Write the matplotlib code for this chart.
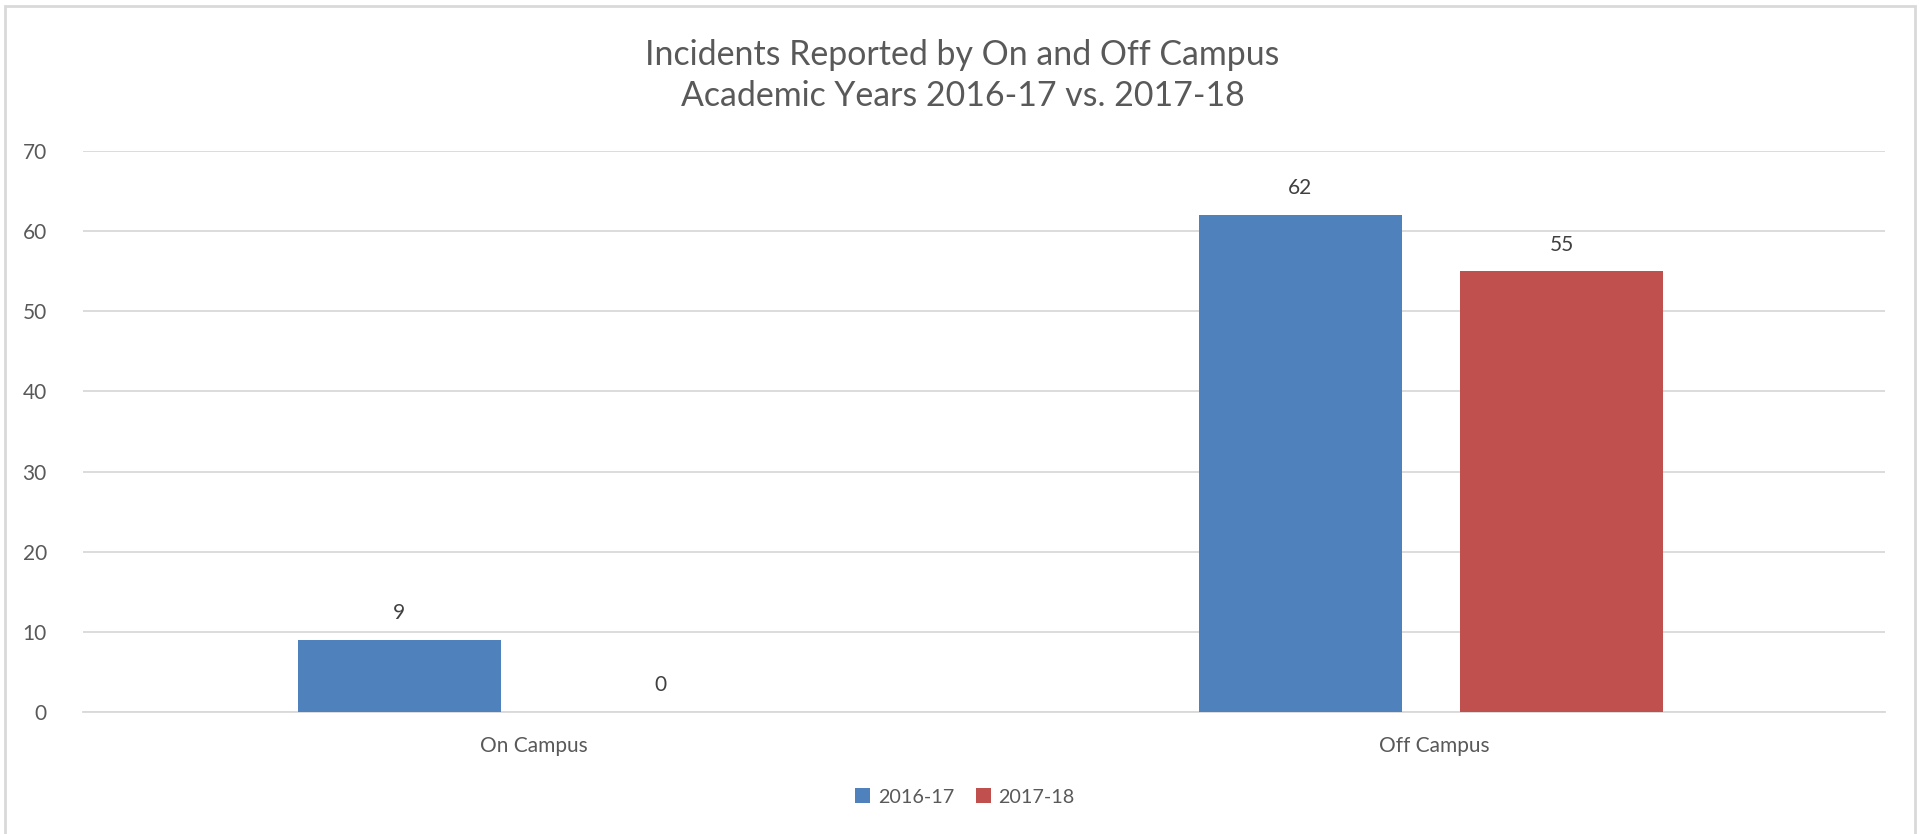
import numpy as np
import matplotlib
matplotlib.use('Agg')
import matplotlib.pyplot as plt
from matplotlib.patches import Rectangle

categories = ['On Campus', 'Off Campus']
series_names = ['2016-17', '2017-18']
values_2016 = [9, 62]
values_2017 = [0, 55]
yticks = [0, 10, 20, 30, 40, 50, 60, 70]

blue = '#4F81BD'
red = '#C0504D'
grid_col = '#D9D9D9'
text_col = '#595959'

plt.rcParams['font.family'] = ['Lato', 'DejaVu Sans']

fig = plt.figure(figsize=(19.25, 8.34), dpi=100)
fig.patch.set_facecolor('white')

# outer chart border (bottom edge is cut off in the reference)
fig.patches.append(Rectangle((5 / 1925, -0.05), 1910 / 1925, 1 - 6 / 834 + 0.05,
                             transform=fig.transFigure, fill=False,
                             edgecolor=grid_col, linewidth=2))

ax = fig.add_axes([83 / 1925, 122 / 834, 1802 / 1925, 561 / 834])

x = np.arange(len(categories))
w = 0.225
off = 0.145
b1 = ax.bar(x - off - 0.004, values_2016, w, color=blue, label=series_names[0], zorder=3)
b2 = ax.bar(x + off - 0.004, values_2017, w, color=red, label=series_names[1], zorder=3)

for bars in (b1, b2):
    for rect in bars:
        h = rect.get_height()
        ax.annotate(f'{h:g}', (rect.get_x() + rect.get_width() / 2, h),
                    xytext=(0, 12), textcoords='offset points',
                    ha='center', va='bottom', fontsize=15, color='#404040')

ax.set_xlim(-0.5, 1.5)
ax.set_ylim(0, 70)
ax.set_yticks(yticks)
ax.set_xticks(x)
ax.set_xticklabels(categories)
ax.yaxis.grid(True, color=grid_col, linewidth=1.3, zorder=0)
ax.set_axisbelow(True)
for s in ['top', 'right', 'left']:
    ax.spines[s].set_visible(False)
ax.spines['bottom'].set_color(grid_col)
ax.spines['bottom'].set_linewidth(1.3)
ax.tick_params(axis='y', length=0, pad=26, labelsize=15, labelcolor=text_col)
ax.tick_params(axis='x', length=0, pad=17, labelsize=15, labelcolor=text_col)

fig.text(0.5, 1 - 55 / 834, 'Incidents Reported by On and Off Campus',
         ha='center', va='center', fontsize=24.4, color=text_col)
fig.text(0.5, 1 - 96 / 834, 'Academic Years 2016-17 vs. 2017-18',
         ha='center', va='center', fontsize=24.4, color=text_col)

fig.legend(loc='center', bbox_to_anchor=(965 / 1925, 1 - 797 / 834), ncol=2,
           frameon=False, fontsize=14.2, labelcolor=text_col,
           handlelength=0.75, handleheight=0.75, handletextpad=0.4, columnspacing=1.1)

fig.savefig('out.png', dpi=100, facecolor='white')
